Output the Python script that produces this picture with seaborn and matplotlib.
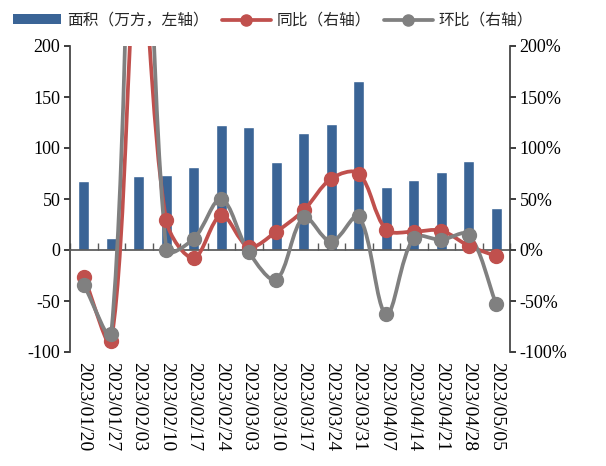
import numpy as np
import pandas as pd
import seaborn as sns
import matplotlib.pyplot as plt
from matplotlib.path import Path
from matplotlib.patches import PathPatch, Patch
from matplotlib.lines import Line2D
from matplotlib.ticker import FuncFormatter

# data
dates = ["2023/01/20", "2023/01/27", "2023/02/03", "2023/02/10", "2023/02/17",
         "2023/02/24", "2023/03/03", "2023/03/10", "2023/03/17", "2023/03/24",
         "2023/03/31", "2023/04/07", "2023/04/14", "2023/04/21", "2023/04/28",
         "2023/05/05"]
area = [68, 12, 73, 74, 81, 123, 121, 86, 115, 124, 166, 62, 69, 76, 87, 41]
yoy = [-26, -89, 300, 29, -8, 34, 3, 18, 39, 70, 75, 20, 18, 19, 4, -6]
mom = [-34, -82, 550, 0, 11, 50, -2, -29, 32, 8, 33, -63, 12, 10, 15, -53]

blue = "#3A6496"
red = "#C0504D"
gray = "#808080"

sns.set_theme(style="ticks")
plt.rcParams['font.family'] = ['Liberation Serif', 'Noto Sans CJK SC']
plt.rcParams['axes.unicode_minus'] = False

df = pd.DataFrame({"date": dates, "area": area})

fig, ax = plt.subplots(figsize=(6.06, 4.66), dpi=100)
fig.subplots_adjust(left=70/606, right=510/606, top=1-46/466, bottom=1-352/466)

sns.barplot(data=df, x="date", y="area", color=blue, saturation=1, width=0.4, ax=ax)
ax.set_ylim(-100, 200)
ax.set_xlim(-0.5, len(dates) - 0.5)
ax.set_yticks(np.arange(-100, 201, 50))
ax.set_xlabel("")
ax.set_ylabel("")


def smooth_path(xs, ys, sx=27.5, sy=1.02):
    # spreadsheet-style smoothed line: bezier control points scaled by
    # neighbouring segment lengths measured on screen
    pts = np.column_stack([np.asarray(xs) * sx, np.asarray(ys) * sy]).astype(float)
    n = len(pts)
    verts = [pts[0]]
    codes = [Path.MOVETO]
    for i in range(n - 1):
        p0 = pts[i - 1] if i > 0 else pts[i]
        p1, p2 = pts[i], pts[i + 1]
        p3 = pts[i + 2] if i + 2 < n else pts[i + 1]
        d01 = np.hypot(*(p1 - p0))
        d12 = np.hypot(*(p2 - p1))
        d23 = np.hypot(*(p3 - p2))
        c1 = p1 + (p2 - p0) / 3 * (d12 / (d01 + d12) if d01 + d12 > 0 else 0)
        c2 = p2 - (p3 - p1) / 3 * (d12 / (d12 + d23) if d12 + d23 > 0 else 0)
        verts += [c1, c2, p2]
        codes += [Path.CURVE4] * 3
    verts = np.array(verts) / [sx, sy]
    return Path(verts, codes)


ax2 = ax.twinx()
xs = np.arange(len(dates))
for vals, col in [(yoy, red), (mom, gray)]:
    ax2.add_patch(PathPatch(smooth_path(xs, vals), facecolor="none",
                            edgecolor=col, lw=2.7, zorder=2))
    ax2.plot(xs, vals, "o", color=col, ms=10, zorder=3)
ax2.set_ylim(-100, 200)
ax2.set_yticks(np.arange(-100, 201, 50))
ax2.yaxis.set_major_formatter(FuncFormatter(lambda v, p: f"{v:.0f}%"))

# spines / ticks
ax.spines["top"].set_visible(False)
ax2.spines["top"].set_visible(False)
ax2.spines["bottom"].set_visible(False)
ax2.spines["left"].set_visible(False)
ax.spines["right"].set_visible(False)
ax.spines["bottom"].set_position(("data", 0))
ax.spines["bottom"].set_color("#595959")
ax.spines["left"].set_color("#404040")
ax2.spines["right"].set_color("#404040")

ax.set_xticks(np.arange(-0.5, len(dates), 1), minor=True)
ax.tick_params(axis="x", which="minor", direction="in", length=5, color="#595959")
ax.tick_params(axis="x", which="major", length=0, pad=81, labelsize=14, labelcolor="black")
plt.setp(ax.get_xticklabels(), rotation=270, va="top", ha="center")
ax.tick_params(axis="y", direction="out", length=4, labelsize=13, labelcolor="black", pad=3)
ax2.tick_params(axis="y", direction="out", length=4, labelsize=13, labelcolor="black", pad=3)

handles = [
    Patch(facecolor=blue, edgecolor="none"),
    Line2D([], [], color=red, lw=2.7, marker="o", ms=8),
    Line2D([], [], color=gray, lw=2.7, marker="o", ms=8),
]
labels = ["面积（万方，左轴）", "同比（右轴）", "环比（右轴）"]
fig.legend(handles, labels, loc="upper center", bbox_to_anchor=(0.45, 1.005), ncol=3,
           frameon=False, prop={"family": ["Noto Sans CJK SC", "DejaVu Sans"], "size": 11.3},
           handlelength=3.1, handletextpad=0.35, columnspacing=0.85, handleheight=0.6)

fig.savefig("out.png", dpi=100)
